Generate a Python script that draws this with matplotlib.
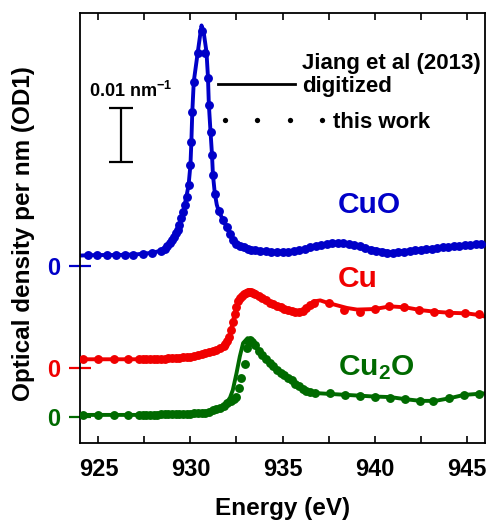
import numpy as np
import matplotlib
matplotlib.use("Agg")
import matplotlib.pyplot as plt
from matplotlib.lines import Line2D

# ---------------- data (energy in eV, optical density per nm in nm^-1) ----------------
cuo_line_E = [924.0, 925.0, 926.0, 927.0, 927.9, 928.4, 928.8, 929.1, 929.4, 929.6, 929.78, 929.9,
              930.0, 930.05, 930.1, 930.18, 930.4, 930.6, 930.72, 930.87, 930.95, 931.0, 931.09,
              931.17, 931.22, 931.32, 931.43, 931.55, 931.96, 932.3, 932.85, 933.4, 934.3, 935.2,
              936.1, 937.0, 938.0, 938.7, 939.6, 940.9, 942.3, 944.1, 946.0]
cuo_line_v = [0.0019, 0.0020, 0.0020, 0.0021, 0.0024, 0.0028, 0.0036, 0.0050, 0.0074, 0.0100, 0.0128,
              0.0150, 0.0187, 0.0230, 0.0285, 0.0341, 0.0396, 0.0445, 0.0432, 0.0396, 0.0350, 0.0298,
              0.0248, 0.0206, 0.0169, 0.0135, 0.0113, 0.0100, 0.0072, 0.0048, 0.0035, 0.0030, 0.0026,
              0.0026, 0.0030, 0.0039, 0.0043, 0.0041, 0.0033, 0.0025, 0.0030, 0.0035, 0.0041]

cuo_dot_E = [924.45, 924.95, 925.45, 925.95, 926.45, 926.9, 927.4, 927.9, 928.4,
             928.6, 928.75, 928.9, 929.0, 929.1, 929.2, 929.3, 929.4, 929.5, 929.6,
             929.72, 929.8, 929.9, 930.0, 930.05, 930.11, 930.18,
             930.41, 930.6, 930.78,
             930.96, 931.01, 931.09, 931.18, 931.23, 931.32, 931.56,
             931.75, 931.96, 932.15, 932.3, 932.5, 932.7, 932.9, 933.1, 933.3, 933.5,
             933.8, 934.1, 934.4, 934.7, 935.0, 935.3, 935.6, 935.9, 936.2, 936.5, 936.8,
             937.1, 937.4, 937.7, 938.0, 938.3, 938.6, 938.9, 939.2, 939.5, 939.8, 940.1,
             940.4, 940.7, 941.0, 941.3, 941.6, 941.9, 942.2, 942.5, 942.8, 943.1, 943.4,
             943.7, 944.0, 944.3, 944.6, 944.9, 945.2, 945.5, 945.8]
cuo_dot_v = [0.0020, 0.0020, 0.0020, 0.0020, 0.0020, 0.0020, 0.0022, 0.0024, 0.0028,
             0.0032, 0.0037, 0.0042, 0.0047, 0.0053, 0.0060, 0.0067, 0.0076, 0.0088, 0.0100,
             0.0112, 0.0128, 0.0150, 0.0187, 0.0230, 0.0285, 0.0341,
             0.0394, 0.0434, 0.0394,
             0.0348, 0.0298, 0.0248, 0.0206, 0.0169, 0.0133, 0.0101,
             0.0085, 0.0072, 0.0058, 0.0048, 0.0041, 0.0037, 0.0035, 0.0032, 0.0030, 0.0029,
             0.0028, 0.0027, 0.0026, 0.0026, 0.0026, 0.0026, 0.0027, 0.0029, 0.0031, 0.0034, 0.0037,
             0.0039, 0.0041, 0.0043, 0.0043, 0.0043, 0.0041, 0.0039, 0.0036, 0.0033, 0.0030, 0.0027,
             0.0025, 0.0024, 0.0024, 0.0025, 0.0026, 0.0028, 0.0029, 0.0030, 0.0031, 0.0032, 0.0033,
             0.0034, 0.0035, 0.0036, 0.0037, 0.0038, 0.0039, 0.0040, 0.0041]

cu_line_E = [924.0, 925.0, 926.0, 927.0, 928.0, 929.0, 929.8, 930.5, 931.0, 931.4, 931.7, 931.95,
             932.15, 932.3, 932.45, 932.6, 932.85, 933.2, 933.6, 934.3, 935.2, 935.95, 936.4, 936.7,
             937.05, 937.4, 937.95, 938.5, 939.05, 940.0, 940.85, 941.7, 942.5, 943.3, 944.1, 945.0,
             945.65, 946.0]
cu_line_v = [0.0016, 0.0016, 0.0016, 0.0016, 0.0016, 0.0018, 0.0020, 0.0024, 0.0029, 0.0034, 0.0038,
             0.0048, 0.0064, 0.0085, 0.0108, 0.0123, 0.0135, 0.0141, 0.0136, 0.0121, 0.0108, 0.0104,
             0.0113, 0.0123, 0.0125, 0.0121, 0.0116, 0.0111, 0.0108, 0.0109, 0.0114, 0.0112, 0.0107,
             0.0104, 0.0102, 0.0101, 0.0098, 0.0095]

cu_dot_E = [924.18, 925.0, 925.82, 926.63,
            927.2, 927.4, 927.6, 927.8, 928.0, 928.2, 928.4, 928.6, 928.8, 929.0, 929.2, 929.4,
            929.6, 929.8, 930.0, 930.2, 930.4, 930.6, 930.8, 931.0, 931.2, 931.4, 931.6, 931.8,
            931.9, 932.0, 932.1, 932.2, 932.3, 932.4, 932.5, 932.6, 932.7, 932.8, 932.9, 933.0,
            933.1, 933.2, 933.3, 933.4, 933.5,
            933.7, 933.9, 934.1, 934.3, 934.5, 934.7, 934.9, 935.1, 935.3, 935.5, 935.7, 935.9,
            936.1, 936.3, 936.5,
            936.7, 937.55, 938.35, 939.2, 940.0, 940.8, 941.6, 942.4, 943.25, 944.05, 944.9, 945.65]
cu_dot_v = [0.0016, 0.0016, 0.0016, 0.0016,
            0.0016, 0.0016, 0.0016, 0.0016, 0.0016, 0.0017, 0.0017, 0.0017, 0.0018, 0.0018, 0.0019,
            0.0019, 0.0020, 0.0020, 0.0021, 0.0022, 0.0023, 0.0025, 0.0027, 0.0029, 0.0031, 0.0034,
            0.0037, 0.0041,
            0.0045, 0.0050, 0.0058, 0.0070, 0.0085, 0.0100, 0.0113, 0.0123, 0.0129, 0.0133, 0.0136,
            0.0139, 0.0141, 0.0141, 0.0140, 0.0139, 0.0137,
            0.0134, 0.0130, 0.0125, 0.0121, 0.0118, 0.0115, 0.0112, 0.0109, 0.0107, 0.0105, 0.0104,
            0.0104, 0.0106, 0.0110, 0.0116,
            0.0121, 0.0120, 0.0107, 0.0104, 0.0109, 0.0115, 0.0112, 0.0107, 0.0104, 0.0102, 0.0102,
            0.0100]

cu2o_line_E = [924.0, 925.0, 926.0, 927.0, 928.0, 929.0, 929.8, 930.5, 931.0, 931.3, 931.6, 931.95,
               932.15, 932.3, 932.5, 932.68, 932.86, 933.1, 933.4, 933.77, 934.3, 935.2, 935.95,
               936.5, 937.0, 938.5, 940.0, 940.85, 941.7, 942.5, 943.3, 944.1, 944.85, 945.65, 946.0]
cu2o_line_v = [0.0004, 0.0004, 0.0004, 0.0004, 0.0004, 0.0005, 0.0006, 0.0007, 0.0010, 0.0014,
               0.0017, 0.0026, 0.0036, 0.0050, 0.0081, 0.0112, 0.0137, 0.0146, 0.0137, 0.0119,
               0.0100, 0.0075, 0.0056, 0.0047, 0.0044, 0.0041, 0.0038, 0.0037, 0.0033, 0.0030,
               0.0030, 0.0035, 0.0041, 0.0043, 0.0044]

cu2o_dot_E = [924.18, 925.0, 925.82, 926.63,
              927.2, 927.4, 927.6, 927.8, 928.0, 928.2, 928.4, 928.6, 928.8, 929.0, 929.2, 929.4,
              929.6, 929.8, 930.0, 930.2, 930.4, 930.6, 930.8, 931.0, 931.2, 931.4, 931.6, 931.8,
              932.0, 932.2,
              932.35, 932.5, 932.64, 932.77, 932.95, 933.05, 933.14, 933.25, 933.35,
              933.5, 933.7, 933.9, 934.1, 934.3, 934.5, 934.7, 934.9, 935.1, 935.3, 935.5, 935.7,
              935.9, 936.1, 936.3, 936.5,
              936.77, 937.6, 938.4, 939.2, 940.04, 940.86, 941.68, 942.49, 943.2, 944.02, 944.84,
              945.65]
cu2o_dot_v = [0.0004, 0.0004, 0.0004, 0.0004,
              0.0004, 0.0004, 0.0004, 0.0004, 0.0004, 0.0004, 0.0005, 0.0005, 0.0005, 0.0005, 0.0005,
              0.0006, 0.0006, 0.0006, 0.0006, 0.0007, 0.0007, 0.0007, 0.0008, 0.0010, 0.0013, 0.0015,
              0.0017, 0.0021, 0.0026, 0.0030,
              0.0034, 0.0038, 0.0053, 0.0072, 0.0099, 0.0127, 0.0140, 0.0143, 0.0139,
              0.0133, 0.0123, 0.0115, 0.0107, 0.0100, 0.0094, 0.0088, 0.0082, 0.0077, 0.0073, 0.0068,
              0.0062, 0.0057, 0.0052, 0.0049, 0.0047,
              0.0044, 0.0044, 0.0041, 0.0039, 0.0038, 0.0036, 0.0033, 0.0030, 0.0030, 0.0035, 0.0041,
              0.0042]

# vertical offsets of the stacked spectra (nm^-1)
cuo_offset = 0.0280
cu_offset = 0.0091
cu2o_offset = 0.0

scale_bar_length = 0.01  # nm^-1

x_major_ticks = [925, 930, 935, 940, 945]
x_minor_ticks = [927.5, 932.5, 937.5, 942.5]

# ---------------- styling ----------------
BLUE = '#0000c8'
RED = '#f00000'
GREEN = '#006a00'

plt.rcParams['font.family'] = ['Liberation Sans', 'DejaVu Sans']
plt.rcParams['font.weight'] = 'bold'
plt.rcParams['mathtext.fontset'] = 'custom'
plt.rcParams['mathtext.rm'] = 'Liberation Sans:bold'
plt.rcParams['mathtext.it'] = 'Liberation Sans:bold'
plt.rcParams['mathtext.bf'] = 'Liberation Sans:bold'
plt.rcParams['mathtext.default'] = 'rm'

fig = plt.figure(figsize=(4.89, 5.20), dpi=100)
ax = fig.add_axes([80 / 489, 77 / 520, 405 / 489, 430 / 520])

series = [
    (cuo_line_E, cuo_line_v, cuo_dot_E, cuo_dot_v, cuo_offset, BLUE),
    (cu_line_E, cu_line_v, cu_dot_E, cu_dot_v, cu_offset, RED),
    (cu2o_line_E, cu2o_line_v, cu2o_dot_E, cu2o_dot_v, cu2o_offset, GREEN),
]
for le, lv, de, dv, off, col in series:
    ax.plot(le, np.asarray(lv) + off, color=col, lw=2.8, solid_joinstyle='round',
            solid_capstyle='round', zorder=2)
    ax.plot(de, np.asarray(dv) + off, 'o', color=col, ms=6.4, mew=0, zorder=3)

ax.set_xlim(924, 946)
ax.set_ylim(-0.0048, 0.0748)

ax.set_xticks(x_major_ticks)
ax.set_xticks(x_minor_ticks, minor=True)
ax.tick_params(axis='x', which='both', direction='in', top=True, bottom=True,
               length=5, width=1.2, labelsize=17, pad=11)

offsets = [cu2o_offset, cu_offset, cuo_offset]
off_colors = [GREEN, RED, BLUE]
ax.set_yticks(offsets)
ax.set_yticklabels(['0', '0', '0'])
ax.tick_params(axis='y', which='major', direction='inout', left=True, right=False,
               length=16, width=1.6, labelsize=17, pad=6)
ax.yaxis.set_minor_locator(matplotlib.ticker.NullLocator())
for tick, col in zip(ax.yaxis.get_major_ticks(), off_colors):
    tick.tick1line.set_color(col)
    tick.tick1line.set_markeredgecolor(col)
    tick.label1.set_color(col)

for sp in ax.spines.values():
    sp.set_linewidth(1.3)

ax.set_xlabel('Energy (eV)', fontsize=17.5, fontweight='bold', labelpad=11)
ax.set_ylabel('Optical density per nm (OD1)', fontsize=17.5, fontweight='bold')
ax.yaxis.set_label_coords(-0.11, 0.486)

# sample labels
ax.text(938.0, 0.0378, 'CuO', color=BLUE, fontsize=21.5, ha='left', va='baseline')
ax.text(938.0, 0.0241, 'Cu', color=RED, fontsize=21.5, ha='left', va='baseline')
ax.text(938.0, 0.0078, 'Cu$_2$O', color=GREEN, fontsize=21.5, ha='left', va='baseline')

# scale bar
ax.errorbar([926.24], [0.0522], yerr=[scale_bar_length / 2], fmt='none', ecolor='k',
            elinewidth=1.6, capsize=8.6, capthick=1.6)
ax.text(924.5, 0.0593, '0.01 nm$^{-1}$', fontsize=13, ha='left', va='baseline')

# legends
h_line = Line2D([], [], color='k', lw=2.0)
h_dots = Line2D([], [], color='k', ls='none', marker='o', ms=3.8, mew=0)
leg_prop = dict(family='Liberation Sans', weight='bold', size=16)
leg1 = ax.legend([h_line], ['digitized'], loc='upper left',
                 bbox_to_anchor=(0.341, 0.853), frameon=False, prop=leg_prop,
                 handlelength=3.47, handletextpad=0.32, borderpad=0, borderaxespad=0,
                 numpoints=1)
ax.add_artist(leg1)
ax.annotate('Jiang et al (2013)', xy=(0, 1), xycoords=leg1.get_texts()[0],
            xytext=(0, 1.5), textcoords='offset points', ha='left', va='bottom',
            fontsize=16, fontweight='bold', zorder=10)
ax.legend([h_dots], ['this work'], loc='upper left', bbox_to_anchor=(0.341, 0.770),
          frameon=False, prop=leg_prop, handlelength=4.97, handletextpad=0.2,
          borderpad=0, borderaxespad=0, numpoints=4)

fig.savefig('out.png', dpi=100)
